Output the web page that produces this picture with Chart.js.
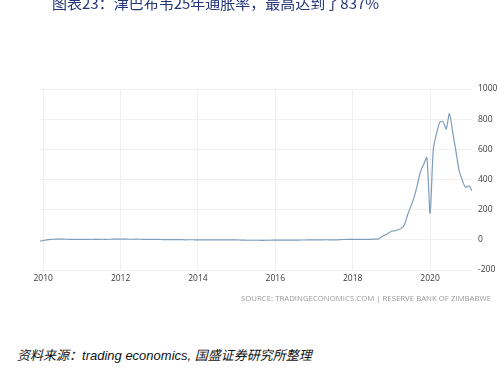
<!DOCTYPE html>
<html>
<head>
<meta charset="utf-8">
<script src="https://cdn.jsdelivr.net/npm/chart.js@4/dist/chart.umd.min.js"></script>
<style>
html,body{margin:0;padding:0;background:#fff;width:499px;height:374px;overflow:hidden;position:relative;}
#wrap{position:absolute;left:0;top:0;width:505px;height:300px;}
#title{position:absolute;left:52px;top:-5px;font:15px/15px "Noto Sans CJK SC","Liberation Sans",sans-serif;color:#24367a;white-space:nowrap;}
#src{position:absolute;left:241px;top:293px;font:7.8px/10px "Open Sans",sans-serif;color:#9a9a9a;white-space:nowrap;}
#note{position:absolute;left:17px;top:347px;font:italic 13px/16px "Liberation Sans","Noto Sans CJK SC",sans-serif;color:#111;white-space:nowrap;}
#note .cn{font-family:"Noto Sans CJK SC",sans-serif;font-style:italic;}
</style>
</head>
<body>
<div id="wrap"><canvas id="c" width="505" height="300"></canvas></div>
<div id="title">图表23：津巴布韦25年通胀率，最高达到了837%</div>
<div id="src">SOURCE: TRADINGECONOMICS.COM | RESERVE BANK OF ZIMBABWE</div>
<div id="note"><span class="cn">资料来源：</span>trading economics, <span class="cn">国盛证券研究所整理</span></div>
<script>
// Month categories: Dec 2009 .. Feb 2021
const firstMonth = '2009-12';
const yearTicks = [2010, 2012, 2014, 2016, 2018, 2020];
const yTicks = [-200, 0, 200, 400, 600, 800, 1000];
// Inflation rate (% YoY), one value per month starting Dec 2009
const inflation = [
  -7.7,
  -6, 0, 2, 4, 5, 5, 4.5, 4, 3.5, 3.5, 3.6, 3.2,
  3.5, 3, 3.5, 3.8, 3.5, 3.5, 3.8, 3.6, 3.8, 4, 4.2, 4.9,
  4.6, 4.5, 4.2, 3.9, 4.0, 4.1, 3.9, 3.7, 3.4, 3.1, 2.9, 2.9,
  2.5, 2.0, 1.9, 1.9, 1.9, 1.4, 1.0, 0.9, 0.3, 0.5, 0.7, 0.3,
  0.3, 0.2, 0.0, -0.1, -0.2, -0.1, -0.1, -0.3, -0.8, -0.5, -0.8, -0.8,
  -0.9, -1.2, -1.8, -2.6, -2.8, -2.8, -2.8, -2.9, -3.3, -2.8, -2.8, -2.5,
  -2.3, -2.2, -2.0, -1.9, -1.6, -1.5, -1.6, -1.4, -1.2, -1.0, -0.9, -0.9,
  -0.7, -0.6, 0.1, 0.3, 0.6, 0.1, 0.1, 0.3, 0.8, 2.1, 2.5, 3.5,
  3.5, 3.4, 2.7, 2.7, 2.7, 2.9, 4.3, 4.8, 5.4, 20.9, 31.0, 42.1,
  56.9, 59.4, 66.8, 75.9, 97.9, 165, 220, 280, 360, 450, 500, 545,
  175, 600, 705, 778, 785, 735, 837, 715, 590, 460, 395, 348,
  358, 325
];

const [fy, fm] = firstMonth.split('-').map(Number);
const points = inflation.map((v, i) => {
  const mIdx = (fm - 1) + i;
  return { x: fy + mIdx / 12, y: v };
});

new Chart(document.getElementById('c'), {
  type: 'line',
  data: {
    datasets: [{
      data: points,
      borderColor: '#7e9dba',
      borderWidth: 1.2,
      pointRadius: 0,
      tension: 0.25,
      fill: false
    }]
  },
  options: {
    responsive: false,
    animation: false,
    events: [],
    layout: { padding: { left: 40, top: 89, right: 0, bottom: 0 } },
    plugins: { legend: { display: false }, tooltip: { enabled: false } },
    scales: {
      x: {
        type: 'linear',
        min: points[0].x,
        max: points[points.length - 1].x,
        afterBuildTicks: s => { s.ticks = yearTicks.map(v => ({ value: v })); },
        afterFit: s => { s.height = 30; },
        border: { display: false },
        grid: { color: '#f0f0f0', lineWidth: 1, drawTicks: false },
        ticks: {
          padding: 3,
          color: '#3a3a3a',
          font: { family: 'Open Sans', size: 8.5 },
          callback: v => String(v),
          maxRotation: 0
        }
      },
      y: {
        position: 'right',
        min: -200,
        max: 1000,
        afterBuildTicks: s => { s.ticks = yTicks.map(v => ({ value: v })); },
        afterFit: s => { s.width = 33; },
        border: { display: false },
        grid: { color: '#f0f0f0', lineWidth: 1, drawTicks: false },
        ticks: {
          padding: 6,
          color: '#3a3a3a',
          font: { family: 'Open Sans', size: 8.5 },
          callback: v => String(v)
        }
      }
    }
  }
});
</script>
</body>
</html>
